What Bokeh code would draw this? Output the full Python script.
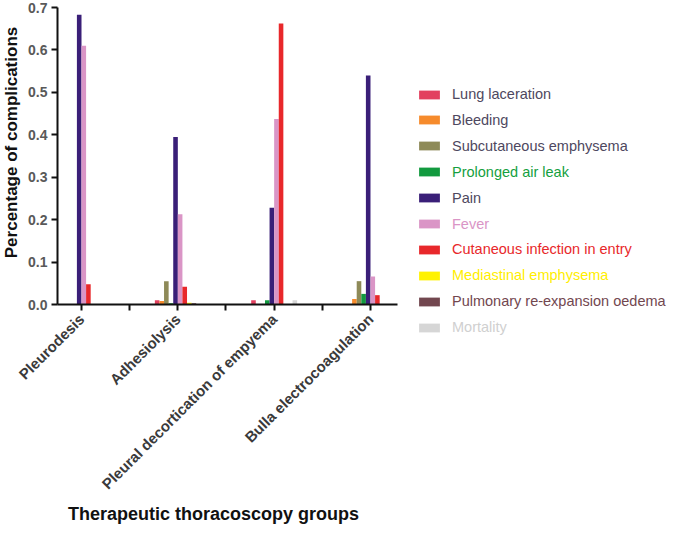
import math
from bokeh.plotting import figure
from bokeh.models import (ColumnDataSource, FixedTicker, Legend, LegendItem,
                          Range1d, NumeralTickFormatter, Label)
from bokeh.transform import dodge
from bokeh.embed import file_html
from bokeh.resources import INLINE

# ---------------- data ----------------
groups = ["Pleurodesis", "Adhesiolysis", "Pleural decortication of empyema",
          "Bulla electrocoagulation"]
complications = ["Lung laceration", "Bleeding", "Subcutaneous emphysema",
                 "Prolonged air leak", "Pain", "Fever",
                 "Cutaneous infection in entry", "Mediastinal emphysema",
                 "Pulmonary re-expansion oedema", "Mortality"]

lung_laceration = [0.0, 0.010, 0.010, 0.0]
bleeding = [0.0, 0.008, 0.0, 0.013]
subcutaneous_emphysema = [0.0, 0.055, 0.0, 0.055]
prolonged_air_leak = [0.0, 0.003, 0.010, 0.025]
pain = [0.683, 0.395, 0.228, 0.540]
fever = [0.610, 0.213, 0.437, 0.066]
cutaneous_infection = [0.048, 0.042, 0.662, 0.022]
mediastinal_emphysema = [0.0, 0.004, 0.0, 0.0]
pulmonary_oedema = [0.0, 0.003, 0.0, 0.0]
mortality = [0.0, 0.0, 0.010, 0.0]

y_ticks = [0.0, 0.1, 0.2, 0.3, 0.4, 0.5, 0.6, 0.7]
y_max = 0.7

series = [lung_laceration, bleeding, subcutaneous_emphysema, prolonged_air_leak,
          pain, fever, cutaneous_infection, mediastinal_emphysema,
          pulmonary_oedema, mortality]

bar_colors = ["#E2405F", "#F68B2C", "#8E8A58", "#129A3F", "#3A1F78",
              "#DA95C6", "#E8282B", "#FFF200", "#72474F", "#D6D6D6"]
label_colors = ["#4E4860", "#4E4860", "#4E4860", "#14A040", "#4E4860",
                "#DA95C6", "#E8282B", "#FFEE00", "#72474F", "#D0D0D0"]

# ---------------- layout (canvas pixels) ----------------
FONT = "Liberation Sans"
W, H = 669, 525
AXIS_X_PX = 57        # y-axis line
FIRST_GROUP_PX = 81   # centre of first group
GROUP_STEP_PX = 96.33
AXIS_END_PX = 397     # right end of x-axis line
TOP_PX = 7            # y = y_max
ZERO_PX = 304         # y = 0

ux = GROUP_STEP_PX
uy = (ZERO_PX - TOP_PX) / y_max


def px_to_x(px):
    return (px - FIRST_GROUP_PX) / ux


def px_to_y(py):
    return (ZERO_PX - py) / uy


data = {"x": list(range(len(groups)))}
keys = []
for i, s in enumerate(series):
    k = "s%d" % i
    keys.append(k)
    data[k] = s
source = ColumnDataSource(data)

p = figure(width=W, height=H, output_backend="svg", toolbar_location=None,
           x_range=Range1d(px_to_x(0), px_to_x(W)),
           y_range=Range1d(px_to_y(H), px_to_y(0)),
           min_border_left=0, min_border_right=0,
           min_border_top=0, min_border_bottom=0)
p.outline_line_color = None
p.grid.visible = False

pitch = 0.0477
renderers = []
for i, k in enumerate(keys):
    off = (i - 4.5) * pitch
    r = p.vbar(x=dodge("x", off, range=p.x_range), top=k, bottom=0,
               width=pitch, source=source,
               fill_color=bar_colors[i], line_color=None)
    renderers.append(r)

x_lo, x_hi = px_to_x(AXIS_X_PX), px_to_x(AXIS_END_PX)

# x axis
xa = p.xaxis[0]
xa.fixed_location = 0
xa.bounds = (x_lo, x_hi)
xa.ticker = FixedTicker(ticks=list(range(len(groups))),
                        minor_ticks=[0.5, 1.5, 2.5])
xa.major_label_overrides = {i: g for i, g in enumerate(groups)}
xa.major_label_orientation = math.pi / 4
xa.major_label_text_font = FONT
xa.major_label_text_font_style = "bold"
xa.major_label_text_font_size = "15px"
xa.major_label_text_color = "#3a3a3a"
xa.major_label_standoff = 6
xa.axis_line_width = 2
xa.axis_line_color = "#111111"
xa.major_tick_line_width = 2
xa.major_tick_line_color = "#111111"
xa.major_tick_in = 0
xa.major_tick_out = 6
xa.minor_tick_line_width = 2
xa.minor_tick_line_color = "#111111"
xa.minor_tick_in = 0
xa.minor_tick_out = 6

# y axis
ya = p.yaxis[0]
ya.fixed_location = x_lo
ya.bounds = (0, y_max)
ya.ticker = FixedTicker(ticks=y_ticks)
ya.formatter = NumeralTickFormatter(format="0.0")
ya.major_label_text_font = FONT
ya.major_label_text_font_style = "bold"
ya.major_label_text_font_size = "14px"
ya.major_label_text_color = "#595959"
ya.major_label_standoff = 4
ya.axis_line_width = 2
ya.axis_line_color = "#111111"
ya.major_tick_line_width = 2
ya.major_tick_line_color = "#111111"
ya.major_tick_in = 0
ya.major_tick_out = 6
ya.minor_tick_line_color = None

# axis titles
p.add_layout(Label(x=px_to_x(11), y=px_to_y(142),
                   text="Percentage of complications", angle=math.pi / 2,
                   text_align="center", text_baseline="middle",
                   text_font=FONT, text_font_style="bold",
                   text_font_size="17px", text_color="#111111"))
p.add_layout(Label(x=px_to_x(213), y=px_to_y(513),
                   text="Therapeutic thoracoscopy groups",
                   text_align="center", text_baseline="alphabetic",
                   text_font=FONT, text_font_style="bold",
                   text_font_size="18px", text_color="#111111"))

# legend: one per item so each label has its own colour
row0, row_step = 93, 25.9
glyph_left = 416
for i, (name, r) in enumerate(zip(complications, renderers)):
    yc = row0 + row_step * i
    leg = Legend(items=[LegendItem(label=name, renderers=[r])],
                 location=(glyph_left, H - yc - 11),
                 padding=0, margin=0, spacing=0,
                 glyph_width=26, glyph_height=11, label_standoff=10,
                 label_height=20,
                 label_text_font=FONT, label_text_font_size="14.5px",
                 label_text_color=label_colors[i],
                 border_line_color=None, background_fill_alpha=0)
    p.add_layout(leg, "center")

open("out.html", "w").write(file_html(p, INLINE))
